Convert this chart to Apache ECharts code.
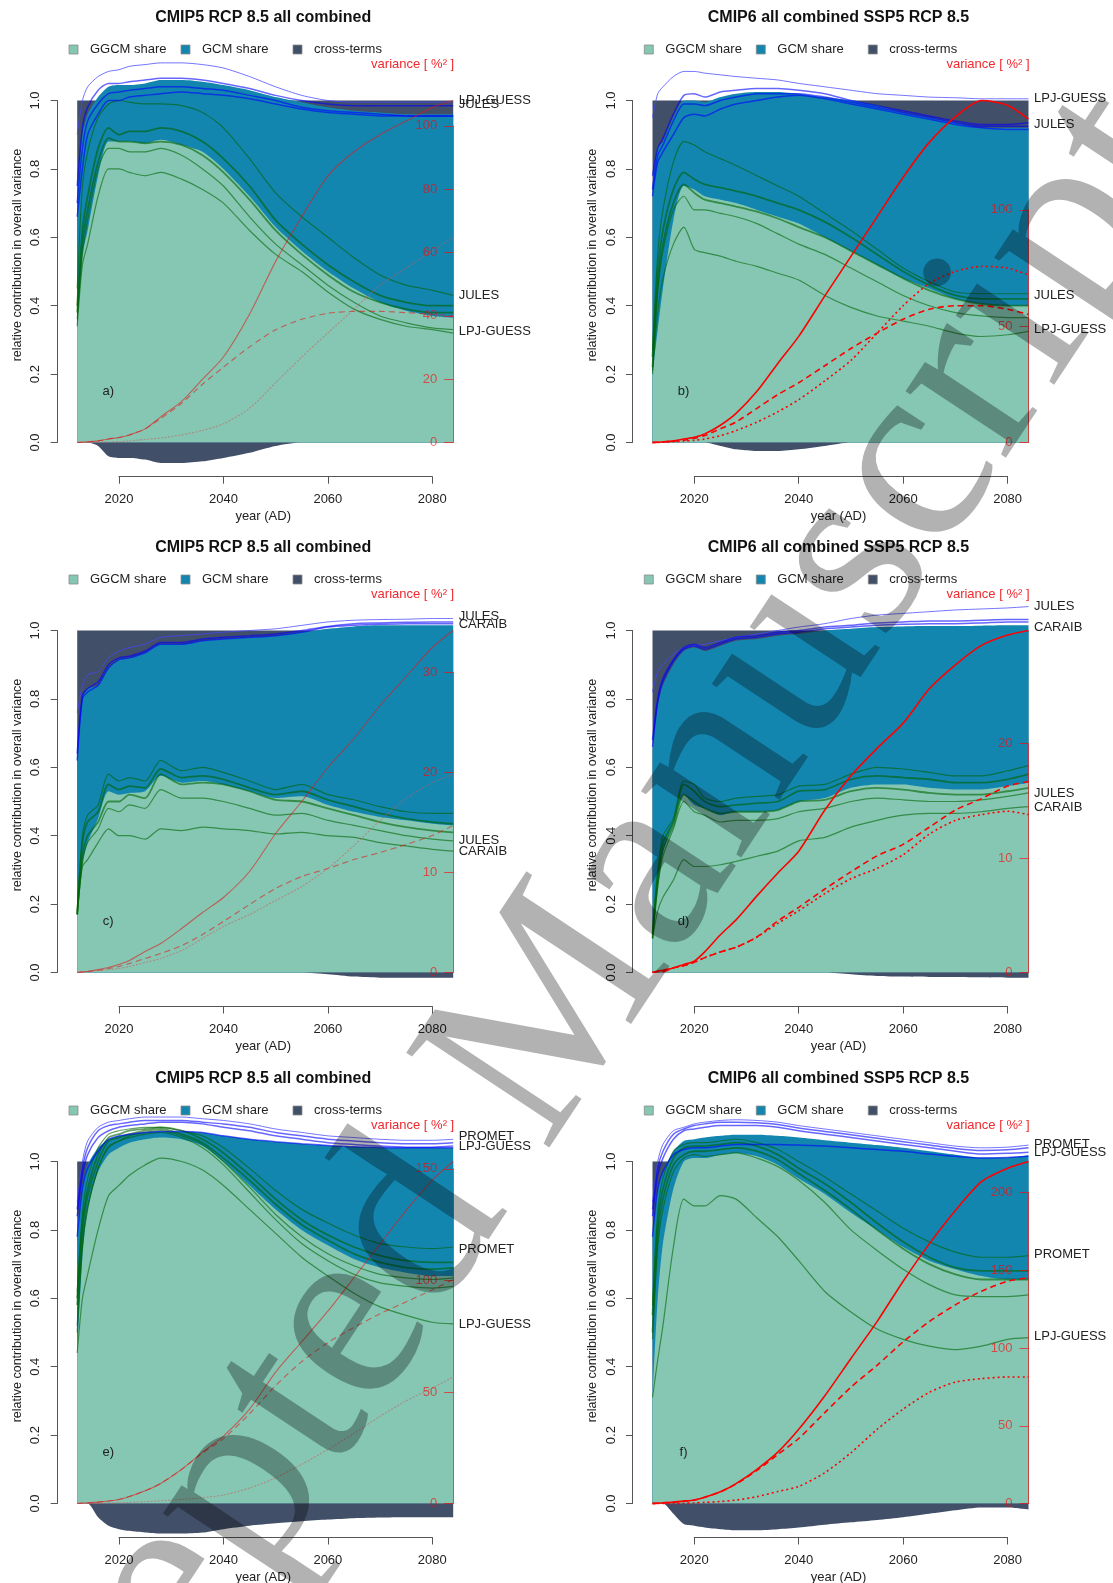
<!DOCTYPE html>
<html>
<head>
<meta charset="utf-8">
<script src="https://cdn.jsdelivr.net/npm/echarts/dist/echarts.min.js"></script>
<style>
html, body { margin: 0; padding: 0; background: #ffffff; }
#chart { width: 1113px; height: 1583px; }
</style>
</head>
<body>
<div id="chart"></div>
<script>
// sample years shared by every series
const years = [2012, 2013, 2014, 2016, 2018, 2020, 2022, 2025, 2028, 2032, 2036, 2040, 2045, 2050, 2055, 2060, 2065, 2070, 2075, 2080, 2084];
const totalShare = 1;

// ---- a) CMIP5, first set
const ggcmA = [0.33, 0.55, 0.62, 0.78, 0.88, 0.88, 0.88, 0.875, 0.885, 0.87, 0.85, 0.80, 0.72, 0.63, 0.56, 0.50, 0.45, 0.41, 0.385, 0.37, 0.365];
const gcmA = [0.39, 0.35, 0.34, 0.23, 0.16, 0.165, 0.165, 0.175, 0.175, 0.19, 0.205, 0.245, 0.31, 0.38, 0.435, 0.48, 0.52, 0.555, 0.575, 0.59, 0.595];
const greenA = [
  [0.45, 0.75, 0.85, 0.95, 0.99, 1.0, 0.995, 0.99, 0.99, 0.985, 0.965, 0.92, 0.83, 0.73, 0.66, 0.60, 0.54, 0.49, 0.46, 0.445, 0.43],
  [0.40, 0.62, 0.72, 0.86, 0.92, 0.90, 0.91, 0.91, 0.92, 0.91, 0.88, 0.83, 0.75, 0.65, 0.58, 0.52, 0.47, 0.43, 0.41, 0.40, 0.40],
  [0.38, 0.58, 0.68, 0.82, 0.89, 0.88, 0.88, 0.875, 0.88, 0.87, 0.84, 0.79, 0.71, 0.62, 0.55, 0.49, 0.44, 0.41, 0.39, 0.38, 0.38],
  [0.36, 0.55, 0.65, 0.80, 0.86, 0.86, 0.85, 0.85, 0.86, 0.84, 0.80, 0.75, 0.66, 0.58, 0.52, 0.46, 0.41, 0.37, 0.35, 0.335, 0.33],
  [0.34, 0.52, 0.58, 0.72, 0.80, 0.80, 0.79, 0.78, 0.79, 0.77, 0.74, 0.70, 0.62, 0.55, 0.50, 0.44, 0.39, 0.36, 0.34, 0.33, 0.32]
];
const blueA = [
  [0.90, 1.0, 1.04, 1.07, 1.085, 1.09, 1.10, 1.105, 1.11, 1.11, 1.105, 1.095, 1.07, 1.04, 1.015, 1.0, 0.995, 0.995, 0.995, 0.995, 0.995],
  [0.75, 0.92, 0.98, 1.03, 1.05, 1.05, 1.055, 1.06, 1.065, 1.065, 1.06, 1.05, 1.035, 1.015, 1.0, 0.99, 0.985, 0.985, 0.985, 0.985, 0.985],
  [0.70, 0.86, 0.94, 0.99, 1.02, 1.025, 1.03, 1.035, 1.04, 1.04, 1.035, 1.03, 1.015, 1.0, 0.98, 0.97, 0.965, 0.96, 0.955, 0.955, 0.955],
  [0.66, 0.80, 0.90, 0.96, 1.0, 1.0, 1.01, 1.015, 1.02, 1.025, 1.02, 1.015, 1.005, 0.99, 0.975, 0.965, 0.96, 0.955, 0.955, 0.955, 0.955]
];
const varA = [
  [0, 0.1, 0.2, 0.5, 1.1, 1.6, 2.4, 4.3, 8.1, 13, 20, 27, 40.5, 57.2, 71.3, 84.2, 91.8, 97.2, 101.5, 105.8, 108],
  [0, 0.1, 0.2, 0.5, 1.1, 1.6, 2.4, 4.3, 7.6, 12.4, 18.4, 23.8, 30.2, 35.6, 38.9, 40.8, 41.4, 41.4, 41, 40.5, 40],
  [0, 0, 0, 0.1, 0.2, 0.3, 0.5, 1, 1.4, 2.4, 3.8, 5.9, 10.8, 18.9, 27, 34.6, 42.1, 49.7, 55.1, 60.5, 64.8]
];
const labelsA = [['LPJ-GUESS', 1.0], ['JULES', 0.988], ['JULES', 0.43], ['LPJ-GUESS', 0.325]];

// ---- b) CMIP6, first set
const ggcmB = [0.20, 0.33, 0.45, 0.65, 0.75, 0.74, 0.72, 0.71, 0.70, 0.68, 0.66, 0.64, 0.60, 0.56, 0.52, 0.48, 0.45, 0.42, 0.405, 0.40, 0.40];
const gcmB = [0.55, 0.53, 0.43, 0.30, 0.25, 0.26, 0.275, 0.30, 0.32, 0.345, 0.365, 0.38, 0.41, 0.44, 0.465, 0.485, 0.50, 0.515, 0.515, 0.52, 0.52];
const greenB = [
  [0.27, 0.55, 0.68, 0.82, 0.88, 0.87, 0.85, 0.83, 0.81, 0.78, 0.75, 0.72, 0.67, 0.62, 0.565, 0.51, 0.47, 0.44, 0.435, 0.435, 0.435],
  [0.25, 0.50, 0.62, 0.74, 0.79, 0.77, 0.755, 0.745, 0.735, 0.72, 0.70, 0.68, 0.645, 0.60, 0.55, 0.50, 0.46, 0.43, 0.42, 0.42, 0.42],
  [0.22, 0.46, 0.58, 0.70, 0.755, 0.73, 0.71, 0.70, 0.69, 0.675, 0.655, 0.63, 0.60, 0.56, 0.52, 0.48, 0.445, 0.42, 0.405, 0.40, 0.40],
  [0.21, 0.44, 0.56, 0.68, 0.72, 0.68, 0.68, 0.67, 0.66, 0.64, 0.61, 0.58, 0.55, 0.51, 0.47, 0.43, 0.40, 0.38, 0.37, 0.365, 0.365],
  [0.20, 0.38, 0.48, 0.58, 0.63, 0.565, 0.555, 0.545, 0.53, 0.515, 0.495, 0.475, 0.43, 0.395, 0.37, 0.355, 0.34, 0.32, 0.31, 0.315, 0.325]
];
const blueB = [
  [0.95, 1.02, 1.04, 1.07, 1.085, 1.085, 1.08, 1.075, 1.07, 1.065, 1.06, 1.05, 1.04, 1.03, 1.02, 1.015, 1.01, 1.008, 1.005, 1.005, 1.005],
  [0.78, 0.86, 0.89, 0.96, 1.015, 1.02, 1.01, 1.025, 1.03, 1.035, 1.035, 1.03, 1.02, 1.0, 0.985, 0.97, 0.955, 0.94, 0.93, 0.93, 0.935],
  [0.74, 0.84, 0.87, 0.94, 0.99, 0.99, 0.985, 1.0, 1.01, 1.02, 1.02, 1.02, 1.01, 0.995, 0.98, 0.965, 0.95, 0.935, 0.925, 0.925, 0.925],
  [0.72, 0.82, 0.85, 0.90, 0.95, 0.96, 0.955, 0.975, 0.99, 1.0, 1.01, 1.015, 1.005, 0.99, 0.975, 0.96, 0.945, 0.93, 0.92, 0.915, 0.915]
];
const varB = [
  [0, 0.1, 0.3, 0.7, 1.5, 2.2, 3.7, 7.4, 12.5, 22, 34, 45.6, 63, 80, 97, 114, 129, 140, 147, 145, 139],
  [0, 0.1, 0.2, 0.6, 1.0, 1.8, 3, 5.9, 8.8, 14.7, 20.6, 25.7, 33, 40.4, 47, 53, 57.3, 58.8, 58.8, 57.3, 55],
  [0, 0, 0.1, 0.3, 0.6, 0.9, 1.5, 2.9, 5.1, 8.8, 13.2, 18.4, 26.5, 35.3, 47, 58.8, 68.4, 73.5, 75.7, 75, 72]
];
const labelsB = [['LPJ-GUESS', 1.005], ['JULES', 0.93], ['JULES', 0.43], ['LPJ-GUESS', 0.33]];

// ---- c) CMIP5, second set
const ggcmC = [0.17, 0.32, 0.38, 0.45, 0.53, 0.52, 0.525, 0.53, 0.575, 0.555, 0.56, 0.55, 0.53, 0.51, 0.515, 0.49, 0.47, 0.455, 0.445, 0.435, 0.43];
const gcmC = [0.45, 0.48, 0.45, 0.39, 0.36, 0.395, 0.395, 0.405, 0.385, 0.405, 0.41, 0.425, 0.45, 0.475, 0.48, 0.515, 0.542, 0.56, 0.57, 0.58, 0.585];
const greenC = [
  [0.18, 0.40, 0.46, 0.49, 0.58, 0.56, 0.57, 0.56, 0.62, 0.59, 0.60, 0.585, 0.56, 0.535, 0.55, 0.52, 0.505, 0.485, 0.47, 0.465, 0.465],
  [0.17, 0.38, 0.44, 0.47, 0.55, 0.535, 0.545, 0.54, 0.595, 0.57, 0.575, 0.565, 0.54, 0.52, 0.53, 0.505, 0.485, 0.465, 0.45, 0.44, 0.435],
  [0.17, 0.34, 0.40, 0.44, 0.50, 0.50, 0.52, 0.51, 0.58, 0.55, 0.555, 0.55, 0.53, 0.505, 0.50, 0.48, 0.46, 0.44, 0.425, 0.415, 0.41],
  [0.17, 0.32, 0.38, 0.42, 0.48, 0.47, 0.49, 0.48, 0.535, 0.51, 0.51, 0.50, 0.48, 0.46, 0.465, 0.445, 0.43, 0.415, 0.40, 0.39, 0.385],
  [0.17, 0.31, 0.33, 0.38, 0.42, 0.40, 0.40, 0.39, 0.42, 0.415, 0.425, 0.42, 0.415, 0.405, 0.41, 0.40, 0.395, 0.38, 0.37, 0.36, 0.355]
];
const blueC = [
  [0.76, 0.84, 0.87, 0.88, 0.92, 0.94, 0.95, 0.96, 0.98, 0.985, 0.99, 0.995, 1.0, 1.005, 1.015, 1.025, 1.03, 1.032, 1.033, 1.035, 1.035],
  [0.64, 0.81, 0.83, 0.85, 0.90, 0.92, 0.925, 0.94, 0.965, 0.965, 0.975, 0.98, 0.985, 0.99, 1.0, 1.012, 1.02, 1.022, 1.024, 1.025, 1.025],
  [0.62, 0.80, 0.82, 0.84, 0.89, 0.915, 0.92, 0.935, 0.96, 0.96, 0.97, 0.975, 0.98, 0.985, 0.995, 1.01, 1.015, 1.018, 1.02, 1.02, 1.02]
];
const varC = [
  [0, 0.1, 0.1, 0.3, 0.5, 0.8, 1.2, 2.1, 2.9, 4.4, 6.0, 7.5, 10.1, 13.9, 17.1, 20.5, 23.4, 26.7, 29.6, 32.5, 34.2],
  [0, 0, 0.1, 0.2, 0.4, 0.6, 0.9, 1.4, 1.9, 2.7, 3.8, 5.1, 6.8, 8.4, 9.6, 10.4, 11.3, 12.0, 12.8, 13.7, 14.7],
  [0, 0, 0.1, 0.2, 0.3, 0.4, 0.6, 1.0, 1.4, 2.2, 3.4, 4.6, 5.8, 7.2, 8.6, 10.4, 12.7, 15.2, 17.4, 19.0, 19.8]
];
const labelsC = [['JULES', 1.04], ['CARAIB', 1.018], ['JULES', 0.385], ['CARAIB', 0.355]];

// ---- d) CMIP6, second set
const ggcmD = [0.10, 0.25, 0.35, 0.44, 0.52, 0.49, 0.48, 0.46, 0.47, 0.47, 0.475, 0.50, 0.51, 0.54, 0.55, 0.55, 0.54, 0.535, 0.535, 0.545, 0.555];
const gcmD = [0.55, 0.53, 0.49, 0.46, 0.42, 0.46, 0.46, 0.495, 0.50, 0.505, 0.51, 0.49, 0.49, 0.465, 0.46, 0.462, 0.473, 0.478, 0.479, 0.47, 0.46];
const greenD = [
  [0.12, 0.30, 0.40, 0.45, 0.56, 0.55, 0.51, 0.50, 0.51, 0.515, 0.52, 0.545, 0.55, 0.58, 0.60, 0.595, 0.585, 0.575, 0.575, 0.59, 0.605],
  [0.11, 0.28, 0.38, 0.44, 0.55, 0.53, 0.50, 0.485, 0.49, 0.495, 0.50, 0.53, 0.535, 0.565, 0.575, 0.57, 0.565, 0.555, 0.555, 0.565, 0.58],
  [0.10, 0.26, 0.36, 0.43, 0.52, 0.50, 0.48, 0.465, 0.47, 0.47, 0.475, 0.50, 0.505, 0.53, 0.54, 0.535, 0.525, 0.52, 0.52, 0.53, 0.54],
  [0.10, 0.25, 0.34, 0.42, 0.50, 0.47, 0.46, 0.44, 0.445, 0.445, 0.45, 0.47, 0.48, 0.50, 0.51, 0.505, 0.50, 0.50, 0.505, 0.515, 0.525],
  [0.10, 0.18, 0.22, 0.27, 0.33, 0.31, 0.31, 0.315, 0.325, 0.34, 0.355, 0.385, 0.395, 0.425, 0.445, 0.46, 0.465, 0.465, 0.47, 0.48, 0.485]
];
const blueD = [
  [0.82, 0.88, 0.90, 0.93, 0.95, 0.955, 0.96, 0.97, 0.98, 0.99, 1.0, 1.01, 1.02, 1.035, 1.045, 1.05, 1.055, 1.06, 1.063, 1.066, 1.07],
  [0.68, 0.80, 0.86, 0.915, 0.95, 0.96, 0.95, 0.965, 0.98, 0.985, 0.995, 1.0, 1.01, 1.015, 1.022, 1.025, 1.028, 1.028, 1.03, 1.032, 1.032],
  [0.66, 0.79, 0.85, 0.91, 0.945, 0.955, 0.945, 0.96, 0.975, 0.98, 0.99, 0.995, 1.005, 1.01, 1.015, 1.018, 1.02, 1.02, 1.022, 1.025, 1.025]
];
const varD = [
  [0, 0.1, 0.2, 0.4, 0.7, 1.0, 1.8, 3.3, 4.6, 6.7, 8.7, 10.6, 14.2, 17.2, 19.6, 21.8, 24.8, 26.9, 28.6, 29.5, 29.9],
  [0, 0.1, 0.1, 0.4, 0.6, 0.9, 1.3, 1.8, 2.2, 3.1, 4.5, 5.7, 7.3, 8.8, 10.2, 11.2, 12.7, 14.2, 15.2, 16.3, 16.7],
  [0, 0.1, 0.1, 0.4, 0.6, 0.9, 1.3, 1.8, 2.2, 3.1, 4.3, 5.4, 6.9, 8.2, 9.1, 10.3, 12.1, 13.3, 13.8, 14.1, 13.8]
];
const labelsD = [['JULES', 1.07], ['CARAIB', 1.008], ['JULES', 0.524], ['CARAIB', 0.482]];

// ---- e) CMIP5, third set
const ggcmE = [0.44, 0.72, 0.86, 0.97, 1.02, 1.04, 1.055, 1.065, 1.07, 1.065, 1.045, 1.0, 0.93, 0.86, 0.80, 0.755, 0.715, 0.69, 0.675, 0.665, 0.665];
const gcmE = [0.36, 0.21, 0.13, 0.07, 0.045, 0.035, 0.025, 0.02, 0.018, 0.023, 0.04, 0.075, 0.135, 0.198, 0.252, 0.292, 0.328, 0.351, 0.365, 0.375, 0.375];
const greenE = [
  [0.62, 0.85, 0.95, 1.04, 1.08, 1.09, 1.095, 1.10, 1.10, 1.09, 1.075, 1.04, 0.98, 0.915, 0.86, 0.82, 0.785, 0.76, 0.75, 0.745, 0.75],
  [0.60, 0.82, 0.92, 1.02, 1.07, 1.08, 1.09, 1.095, 1.10, 1.09, 1.065, 1.025, 0.96, 0.89, 0.83, 0.785, 0.75, 0.725, 0.71, 0.705, 0.705],
  [0.58, 0.80, 0.90, 1.0, 1.06, 1.07, 1.08, 1.09, 1.095, 1.08, 1.055, 1.01, 0.945, 0.875, 0.815, 0.77, 0.73, 0.705, 0.69, 0.685, 0.69],
  [0.52, 0.76, 0.87, 0.98, 1.045, 1.06, 1.075, 1.085, 1.09, 1.075, 1.05, 1.0, 0.925, 0.845, 0.78, 0.73, 0.695, 0.67, 0.66, 0.655, 0.66],
  [0.50, 0.75, 0.86, 0.98, 1.04, 1.06, 1.07, 1.08, 1.085, 1.07, 1.04, 0.99, 0.91, 0.83, 0.76, 0.71, 0.67, 0.645, 0.635, 0.63, 0.635],
  [0.44, 0.60, 0.67, 0.80, 0.90, 0.93, 0.96, 0.99, 1.01, 1.0, 0.975, 0.93, 0.86, 0.79, 0.72, 0.665, 0.615, 0.575, 0.55, 0.53, 0.525]
];
const blueE = [
  [0.88, 1.0, 1.06, 1.10, 1.115, 1.12, 1.125, 1.13, 1.13, 1.13, 1.125, 1.12, 1.11, 1.095, 1.085, 1.075, 1.07, 1.065, 1.062, 1.062, 1.065],
  [0.86, 0.98, 1.04, 1.09, 1.105, 1.11, 1.115, 1.12, 1.12, 1.12, 1.115, 1.11, 1.10, 1.085, 1.075, 1.065, 1.06, 1.055, 1.052, 1.052, 1.055],
  [0.84, 0.96, 1.02, 1.07, 1.09, 1.10, 1.105, 1.11, 1.115, 1.115, 1.11, 1.10, 1.09, 1.075, 1.065, 1.055, 1.05, 1.045, 1.042, 1.042, 1.045],
  [0.78, 0.92, 0.98, 1.03, 1.065, 1.075, 1.08, 1.085, 1.088, 1.088, 1.085, 1.075, 1.065, 1.058, 1.052, 1.047, 1.043, 1.041, 1.04, 1.04, 1.04]
];
const varE = [
  [0, 0.2, 0.3, 0.6, 1.1, 1.8, 3.1, 5.7, 9.0, 15.3, 23.0, 30.2, 42.3, 58.9, 72.5, 86.2, 101.2, 116.4, 131.4, 145.0, 153.3],
  [0, 0.2, 0.3, 0.6, 1.1, 1.8, 3.1, 5.7, 9.0, 15.3, 22.7, 29.1, 40.2, 52.9, 63.6, 72.1, 78.9, 85.1, 90.4, 95.8, 100.4],
  [0, 0, 0, 0, 0.2, 0.3, 0.5, 0.8, 1.2, 1.8, 2.6, 3.8, 6.9, 11.5, 17.6, 24.2, 31.4, 39.1, 46.0, 51.8, 56.7]
];
const labelsE = [['PROMET', 1.074], ['LPJ-GUESS', 1.044], ['PROMET', 0.744], ['LPJ-GUESS', 0.525]];

// ---- f) CMIP6, third set
const ggcmF = [0.31, 0.60, 0.76, 0.92, 1.0, 1.01, 1.01, 1.02, 1.025, 1.015, 0.99, 0.95, 0.905, 0.85, 0.80, 0.75, 0.71, 0.685, 0.665, 0.655, 0.655];
const gcmF = [0.47, 0.32, 0.21, 0.11, 0.06, 0.055, 0.06, 0.055, 0.053, 0.063, 0.085, 0.12, 0.157, 0.205, 0.248, 0.29, 0.32, 0.335, 0.347, 0.357, 0.363];
const greenF = [
  [0.58, 0.85, 0.95, 1.03, 1.05, 1.055, 1.055, 1.06, 1.065, 1.055, 1.035, 1.0, 0.955, 0.905, 0.855, 0.805, 0.765, 0.735, 0.72, 0.72, 0.725],
  [0.55, 0.82, 0.92, 1.01, 1.04, 1.045, 1.045, 1.05, 1.055, 1.045, 1.02, 0.98, 0.935, 0.88, 0.82, 0.765, 0.72, 0.69, 0.68, 0.68, 0.68],
  [0.50, 0.78, 0.89, 0.99, 1.02, 1.03, 1.03, 1.035, 1.04, 1.03, 1.005, 0.965, 0.915, 0.86, 0.80, 0.745, 0.70, 0.67, 0.655, 0.655, 0.655],
  [0.48, 0.75, 0.86, 0.97, 1.01, 1.02, 1.015, 1.02, 1.025, 1.01, 0.985, 0.945, 0.88, 0.80, 0.74, 0.685, 0.64, 0.61, 0.605, 0.605, 0.61],
  [0.31, 0.42, 0.52, 0.75, 0.89, 0.87, 0.87, 0.90, 0.89, 0.835, 0.78, 0.71, 0.62, 0.56, 0.51, 0.48, 0.46, 0.45, 0.46, 0.48, 0.485]
];
const blueF = [
  [0.88, 1.0, 1.05, 1.09, 1.10, 1.11, 1.115, 1.12, 1.122, 1.12, 1.115, 1.105, 1.095, 1.085, 1.075, 1.065, 1.055, 1.045, 1.04, 1.042, 1.048],
  [0.86, 0.98, 1.03, 1.08, 1.095, 1.105, 1.11, 1.115, 1.115, 1.113, 1.108, 1.098, 1.088, 1.078, 1.068, 1.058, 1.048, 1.038, 1.032, 1.034, 1.04],
  [0.84, 0.96, 1.01, 1.065, 1.09, 1.095, 1.10, 1.105, 1.105, 1.105, 1.10, 1.09, 1.08, 1.07, 1.06, 1.05, 1.04, 1.03, 1.022, 1.024, 1.027],
  [0.78, 0.92, 0.97, 1.02, 1.035, 1.04, 1.04, 1.045, 1.05, 1.05, 1.05, 1.048, 1.045, 1.04, 1.035, 1.03, 1.022, 1.015, 1.01, 1.012, 1.015]
];
const varF = [
  [0, 0.2, 0.4, 0.9, 1.5, 2.2, 4.0, 7.5, 12.8, 22, 33, 47.7, 69.3, 93.3, 117, 143, 167, 188.5, 207, 215.6, 220],
  [0, 0.2, 0.4, 0.9, 1.5, 2.2, 4.0, 7.5, 12.5, 21.3, 31.5, 41.8, 58.5, 74.8, 88.9, 104, 117, 127.8, 136.6, 143, 145.2],
  [0, 0, 0, 0, 0.2, 0.4, 0.7, 1.3, 2.2, 4.4, 7.7, 11, 19.8, 32.6, 47.7, 60.7, 71.5, 78.1, 80.3, 81.4, 81.4]
];
const labelsF = [['PROMET', 1.049], ['LPJ-GUESS', 1.027], ['PROMET', 0.729], ['LPJ-GUESS', 0.488]];

const titleCMIP5 = 'CMIP5 RCP 8.5 all combined';
const titleCMIP6 = 'CMIP6 all combined SSP5 RCP 8.5';

const panels = [
  { tag: 'a)', col: 0, row: 0, title: titleCMIP5, ggcm: ggcmA, gcm: gcmA, green: greenA, blue: blueA, variance: varA, varMax: 108, varTop: 100, varStep: 20, labels: labelsA },
  { tag: 'b)', col: 1, row: 0, title: titleCMIP6, ggcm: ggcmB, gcm: gcmB, green: greenB, blue: blueB, variance: varB, varMax: 147, varTop: 100, varStep: 50, labels: labelsB },
  { tag: 'c)', col: 0, row: 1, title: titleCMIP5, ggcm: ggcmC, gcm: gcmC, green: greenC, blue: blueC, variance: varC, varMax: 34.2, varTop: 30, varStep: 10, labels: labelsC },
  { tag: 'd)', col: 1, row: 1, title: titleCMIP6, ggcm: ggcmD, gcm: gcmD, green: greenD, blue: blueD, variance: varD, varMax: 29.9, varTop: 20, varStep: 10, labels: labelsD },
  { tag: 'e)', col: 0, row: 2, title: titleCMIP5, ggcm: ggcmE, gcm: gcmE, green: greenE, blue: blueE, variance: varE, varMax: 153.3, varTop: 150, varStep: 50, labels: labelsE },
  { tag: 'f)', col: 1, row: 2, title: titleCMIP6, ggcm: ggcmF, gcm: gcmF, green: greenF, blue: blueF, variance: varF, varMax: 220, varTop: 200, varStep: 50, labels: labelsF }
];

// layout
const FONT = '"Liberation Sans", Arial, sans-serif';
const W = 376, H = 342;
const colLeft = [77.2, 652.5];
const rowTop = [100.5, 630.5, 1161.5];
const axisY = [476.7, 1006.5, 1537.5];
const TEAL = '#85c7b3', BLUE = '#1386b0', DARK = '#424f68';
const AXIS = '#555';
const RED_AXIS = 'rgba(255,0,0,0.62)';

const chart = echarts.init(document.getElementById('chart'));
const grid = [], xAxis = [], yAxis = [], series = [], graphic = [];

function pairs(vals) {
  return years.map((y, i) => [y, vals[i]]);
}
function lineSeries(data, xi, yi, style, extra) {
  return Object.assign({
    type: 'line', xAxisIndex: xi, yAxisIndex: yi, data: data,
    symbol: 'none', smooth: 0.25, clip: false, silent: true,
    lineStyle: style
  }, extra || {});
}
function text(x, y, str, font, fill, align, extra) {
  return Object.assign({
    type: 'text', x: x, y: y, silent: true, z: 50,
    style: { text: str, font: font, fill: fill, textAlign: align || 'left', textVerticalAlign: 'middle' }
  }, extra || {});
}

panels.forEach(function (p) {
  const L = colLeft[p.col], T = rowTop[p.row], AY = axisY[p.row];
  const g0 = grid.length, x0 = xAxis.length, y0 = yAxis.length;
  const frac = p.varTop / p.varMax;
  grid.push({ left: L, top: T, width: W, height: H });
  grid.push({ left: L, top: T + H * (1 - frac), width: W, height: H * frac });
  grid.push({ left: L + W * 8 / 72, top: AY - 10, width: W * 60 / 72, height: 10 });

  xAxis.push({ type: 'value', gridIndex: g0, min: 2012, max: 2084, show: false });
  xAxis.push({ type: 'value', gridIndex: g0 + 1, min: 2012, max: 2084, show: false });
  xAxis.push({
    type: 'value', gridIndex: g0 + 2, min: 2020, max: 2080, interval: 20, position: 'bottom',
    axisLine: { lineStyle: { color: AXIS, width: 1 } },
    axisTick: { length: 7, lineStyle: { color: AXIS } },
    axisLabel: { margin: 16, fontFamily: FONT, fontSize: 13, color: '#222', formatter: function (v) { return String(v); } },
    splitLine: { show: false }
  });

  yAxis.push({
    type: 'value', gridIndex: g0, min: 0, max: 1, interval: 0.2, position: 'left', offset: 20,
    axisLine: { show: true, lineStyle: { color: AXIS } },
    axisTick: { show: true, length: 6.5, lineStyle: { color: AXIS } },
    axisLabel: { rotate: 90, margin: 15, fontFamily: FONT, fontSize: 13, color: '#222', formatter: function (v) { return v.toFixed(1); } },
    splitLine: { show: false }
  });
  yAxis.push({ type: 'value', gridIndex: g0, min: 0, max: p.varMax, show: false, position: 'right' });
  yAxis.push({
    type: 'value', gridIndex: g0 + 1, min: 0, max: p.varTop, interval: p.varStep, position: 'right', z: 10,
    axisLine: { show: true, lineStyle: { color: RED_AXIS } },
    axisTick: { show: true, inside: true, length: 9, lineStyle: { color: RED_AXIS } },
    axisLabel: { inside: true, margin: 16, fontFamily: FONT, fontSize: 13, color: RED_AXIS },
    splitLine: { show: false }
  });
  yAxis.push({ type: 'value', gridIndex: g0 + 2, show: false });

  // stacked shares: cross-terms background, GCM band, GGCM band, negative cross-terms
  const gcmTop = p.ggcm.map((g, i) => g + p.gcm[i]);
  const crossNeg = gcmTop.map(t => Math.min(0, totalShare - t));
  const area = (vals, color) => lineSeries(pairs(vals), x0, y0, { width: 0 }, { areaStyle: { color: color, opacity: 1 } });
  series.push(area(years.map(() => totalShare), DARK));
  series.push(area(gcmTop, BLUE));
  series.push(area(p.ggcm, TEAL));
  series.push(area(crossNeg, DARK));

  p.green.forEach(function (vals, k) {
    series.push(lineSeries(pairs(vals), x0, y0, { color: 'rgba(0,100,0,0.6)', width: (k === 1 || k === 2) ? 1.8 : 1.2 }));
  });
  p.blue.forEach(function (vals, k) {
    const style = k === 0 ? { color: 'rgba(70,70,255,0.75)', width: 1 } : { color: 'rgba(0,0,255,0.6)', width: 1.5 };
    series.push(lineSeries(pairs(vals), x0, y0, style));
  });

  const cmip6 = p.col === 1;
  const red = cmip6 ? '#ff0000' : 'rgba(225,25,25,0.6)';
  const redLight = cmip6 ? '#ff0000' : 'rgba(205,90,90,0.55)';
  const w = cmip6 ? 1.6 : 1.1;
  series.push(lineSeries(pairs(p.variance[0]), x0, y0 + 1, { color: red, width: w, type: 'solid' }));
  series.push(lineSeries(pairs(p.variance[1]), x0, y0 + 1, { color: red, width: w, type: [6, 4] }));
  series.push(lineSeries(pairs(p.variance[2]), x0, y0 + 1, { color: redLight, width: w, type: cmip6 ? [2, 3] : [2, 1.5] }));

  // texts
  const cx = L + 186;
  graphic.push(text(cx, T - 83, p.title, 'bold 16px ' + FONT, '#111', 'center'));
  const legY = T - 51;
  [[TEAL, 'GGCM share', 0], [BLUE, 'GCM share', 112], [DARK, 'cross-terms', 224]].forEach(function (it) {
    graphic.push({ type: 'rect', silent: true, z: 50, shape: { x: L - 8.2 + it[2], y: legY - 4.5, width: 9, height: 9 }, style: { fill: it[0], stroke: '#8a8a8a', lineWidth: 0.8 } });
    graphic.push(text(L + 12.8 + it[2], legY, it[1], '13px ' + FONT, '#222'));
  });
  graphic.push(text(L + W + 1, T - 36.5, 'variance [ %\u00b2 ]', '13px ' + FONT, '#f0282d', 'right'));
  graphic.push(text(L + 31, T + 290.5, p.tag, '13px ' + FONT, '#222', 'center'));
  graphic.push(text(cx, AY + 39.5, 'year (AD)', '13px ' + FONT, '#222', 'center'));
  graphic.push(text(L - 59.5, T + 154.5, 'relative contribution in overall variance', '12.5px ' + FONT, '#222', 'center', { rotation: Math.PI / 2 }));
  p.labels.forEach(function (lb) {
    graphic.push(text(L + W + 5.5, T + H * (1 - lb[1]), lb[0], '13px ' + FONT, '#222'));
  });
});

// manuscript watermark
graphic.push({
  type: 'text', x: 526, y: 1058, rotation: 56.5 * Math.PI / 180, silent: true, z: 100,
  style: { text: 'Accepted Manuscript', font: '262px "Liberation Serif", serif', fill: 'rgba(0,0,0,0.3)', textAlign: 'center', textVerticalAlign: 'middle' }
});

chart.setOption({
  animation: false,
  backgroundColor: '#ffffff',
  grid: grid,
  xAxis: xAxis,
  yAxis: yAxis,
  series: series,
  graphic: { elements: graphic }
});
</script>
</body>
</html>
